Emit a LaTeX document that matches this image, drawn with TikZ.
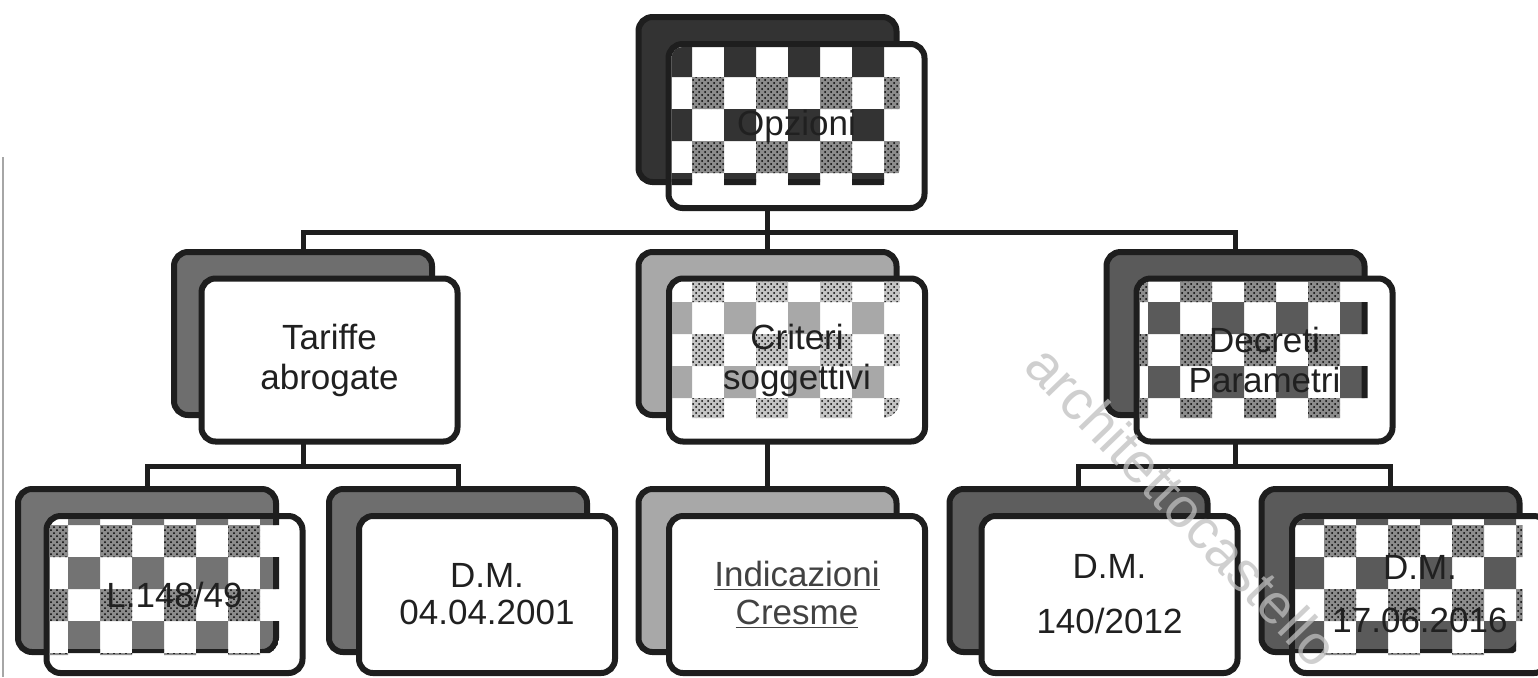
\documentclass[tikz,border=0pt]{standalone}
\usepackage{fontspec}
\setmainfont{Liberation Sans}
\usetikzlibrary{patterns,calc}
\pgfdeclarelayer{bg}
\pgfsetlayers{bg,main}
\definecolor{bordc}{HTML}{1E1E1E}
\definecolor{txtc}{HTML}{202020}
\definecolor{cA}{HTML}{333333}
\definecolor{cB}{HTML}{6E6E6E}
\definecolor{cC}{HTML}{A8A8A8}
\definecolor{cD}{HTML}{5A5A5A}
\definecolor{cE}{HTML}{737373}
\definecolor{cF}{HTML}{5E5E5E}
\definecolor{hatA}{HTML}{8C8C8C}
\definecolor{hatC}{HTML}{C4C4C4}
\newcommand\mycheck[6]{%
  \begin{scope}
    \clip[rounded corners=5.5pt] ($(#2.south west)+(1.5pt,1.5pt)$) rectangle ($(#2.north east)+(-1.5pt,-1.5pt)$);
    \clip[rounded corners=8.5pt] ($(#1.south west)+(-1.5pt,-1.5pt)$) rectangle ($(#1.north east)+(1.5pt,1.5pt)$);
    \begin{scope}
      \clip \foreach \i in {-1,...,4}{\foreach \j in {-1,...,3}{(#3+64*\i,#4+64*\j) rectangle ++(32,32)}};
      \draw[line width=3pt, draw=bordc, fill=#6, rounded corners=7pt] (#1.south west) rectangle (#1.north east);
    \end{scope}
    \fill[#5] \foreach \i in {-1,...,4}{\foreach \j in {-1,...,3}{(#3+32+64*\i,#4+32+64*\j) rectangle ++(32,32)}};
    \fill[pattern=crosshatch dots, pattern color=black] \foreach \i in {-1,...,4}{\foreach \j in {-1,...,3}{(#3+32+64*\i,#4+32+64*\j) rectangle ++(32,32)}};
  \end{scope}}
\tikzset{
  bx/.style={rectangle, rounded corners=7pt, draw=bordc, line width=3pt, inner sep=0pt, outer sep=0pt},
  bk/.style={bx, minimum width=129pt, minimum height=81.5pt},
  fr/.style={bx, fill=white, minimum width=128pt, minimum height=81.5pt},
  fr3/.style={fr, minimum height=78.5pt},
  conn/.style={draw=bordc, line width=2.5pt},
  lbl/.style={align=center, text=txtc, font=\fontsize{17.5}{20}\selectfont, inner sep=0pt},
}
\begin{document}
\begin{tikzpicture}[x=0.5pt, y=-0.5pt]
\useasboundingbox (0,0) rectangle (1538,677);
\draw[gray!70, line width=0.8pt] (3,157) -- (3,677);
% level 1
\node[bk, fill=cA, minimum height=82.5pt] (opzB) at (767.5,99.5) {};
\node[fr, minimum height=82pt] (opzF) at (796.5,126) {};
\mycheck{opzB}{opzF}{660}{45}{hatA}{cA}
\node[lbl] (opzT) at (opzF) {Opzioni};
% level 2
\node[bk, fill=cB] (tarB) at (303,333.5) {};
\node[fr] (tarF) at (329.5,360) {};
\node[lbl] (tarT) at (tarF) {Tariffe\\abrogate};
\node[bk, fill=cC] (criB) at (767.5,333.5) {};
\node[fr] (criF) at (797,360) {};
\mycheck{criB}{criF}{660}{302}{hatC}{cC}
\node[lbl] (criT) at (criF) {Criteri\\soggettivi};
\node[bk, fill=cD] (decB) at (1235.5,333.5) {};
\node[fr] (decF) at (1264.5,360) {};
\mycheck{decB}{decF}{1148}{302}{hatA}{cD}
\node[lbl] (decT) at (decF) {Decreti\\Parametri};
% level 3
\node[bk, fill=cE] (lB) at (147,570.5) {};
\node[fr3] (lF) at (174.5,594.5) {};
\mycheck{lB}{lF}{68}{493}{hatA}{cE}
\node[lbl] (lT) at (lF) {L.148/49};
\node[bk, fill=cB] (d04B) at (458,570.5) {};
\node[fr3] (d04F) at (487,594.5) {};
\node[lbl, font=\fontsize{17.5}{18.5}\selectfont] (d04T) at (d04F) {D.M.\\04.04.2001};
\node[bk, fill=cC] (indB) at (767.5,570.5) {};
\node[fr3] (indF) at (797,594.5) {};
\node[lbl, text=txtc!85, font=\fontsize{17.5}{19}\selectfont] (indT) at (indF) {\underline{Indicazioni}\\\underline{Cresme}};
\node[bk, fill=cF] (d140B) at (1078.5,570.5) {};
\node[fr3] (d140F) at (1109.5,594.5) {};
\node[lbl, font=\fontsize{17.5}{27.5}\selectfont] (d140T) at (d140F) {D.M.\\140/2012};
\node[bk, fill=cD] (d17B) at (1390.5,570.5) {};
\node[fr3] (d17F) at (1420,594.5) {};
\mycheck{d17B}{d17F}{1292}{493}{hatA}{cD}
\node[lbl, font=\fontsize{17.5}{26.5}\selectfont] (d17T) at (d17F) {D.M.\\17.06.2016};
% connectors
\begin{pgfonlayer}{bg}
\fill[white] (0,0) rectangle (1538,677);
\coordinate (j1) at ($(opzB.center |- opzF.south)+(0,24)$);
\draw[conn] (opzB.center |- opzF.south) -- (j1);
\draw[conn] (tarB.north) |- (j1) -| (decB.north);
\draw[conn] (j1) -- (criB.north);
\coordinate (j2) at ($(tarB.center |- tarF.south)+(0,25)$);
\draw[conn] (tarB.center |- tarF.south) -- (j2);
\draw[conn] (lB.north) |- (j2) -| (d04B.north);
\draw[conn] (criB.center |- criF.south) -- (indB.north);
\coordinate (j3) at ($(decB.center |- decF.south)+(0,25)$);
\draw[conn] (decB.center |- decF.south) -- (j3);
\draw[conn] (d140B.north) |- (j3) -| (d17B.north);
\end{pgfonlayer}
% watermark
\node[rotate=-46, anchor=base west, text=gray!50, opacity=0.75, font=\fontsize{28}{28}\selectfont, inner sep=0pt] (wm) at (1022,368) {architettocastello};
\end{tikzpicture}
\end{document}
